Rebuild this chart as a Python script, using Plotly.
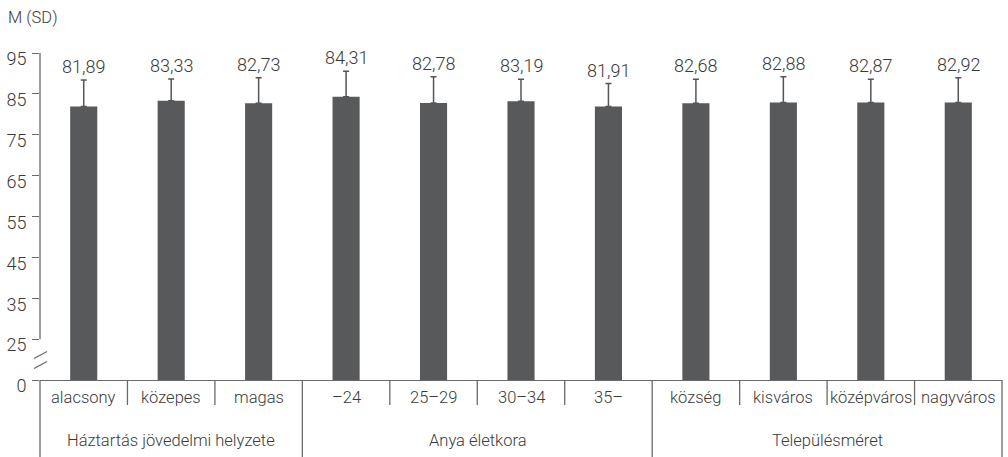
import plotly.graph_objects as go

# ---- data ----
categories = ["alacsony", "közepes", "magas", "–24", "25–29", "30–34", "35–",
              "község", "kisváros", "középváros", "nagyváros"]
groups = ["Háztartás jövedelmi helyzete", "Anya életkora", "Településméret"]
group_sizes = [3, 4, 4]
means = [81.89, 83.33, 82.73, 84.31, 82.78, 83.19, 81.91, 82.68, 82.88, 82.87, 82.92]
sds = [6.5, 5.3, 6.2, 6.2, 6.4, 5.4, 5.6, 5.9, 6.3, 5.7, 6.0]
tick_values = [0, 25, 35, 45, 55, 65, 75, 85, 95]
value_labels = [f"{m:.2f}".replace(".", ",") for m in means]

# ---- broken-axis transform: 0..25 compressed to one 10-unit step ----
BREAK_OFFSET = 15
def ypos(v):
    return 0 if v == 0 else v - BREAK_OFFSET

# ---- geometry ----
W, H = 1008, 457
L, R, T, B = 40, 6, 53, 77
PW, PH = W - L - R, H - T - B
n = len(categories)

def px_x(px):
    return (px - L) / PW

def px_y(py):
    return (H - B - py) / PH

FONT = "Roboto"
TXT = "#3a3a3a"
LINE = "#6a6a6a"
BAR = "#58595b"

x_idx = list(range(n))
bar_y = [ypos(m) for m in means]

fig = go.Figure()
fig.add_trace(go.Bar(
    x=x_idx, y=bar_y, base=0, width=0.31,
    marker=dict(color=BAR, line=dict(width=0)),
    error_y=dict(type="data", array=sds, arrayminus=[0] * n, symmetric=False,
                 color="#555555", thickness=1.5, width=3),
    hoverinfo="skip",
))

annotations = []
# value labels
for i, (m, s, lab) in enumerate(zip(means, sds, value_labels)):
    annotations.append(dict(x=i, y=ypos(m) + s, xref="x", yref="y", text=lab,
                            showarrow=False, yanchor="bottom", yshift=1,
                            font=dict(family=FONT, size=18, color=TXT, weight=300)))
# category labels
for i, c in enumerate(categories):
    annotations.append(dict(x=i, y=px_y(397), xref="x", yref="paper", text=c,
                            showarrow=False, yanchor="middle",
                            font=dict(family=FONT, size=16.5, color=TXT, weight=300)))
# group labels
start = 0
bounds = [-0.5]
for g, sz in zip(groups, group_sizes):
    center = start + (sz - 1) / 2
    annotations.append(dict(x=center, y=px_y(440), xref="x", yref="paper", text=g,
                            showarrow=False, yanchor="middle",
                            font=dict(family=FONT, size=16.5, color=TXT, weight=300)))
    start += sz
    bounds.append(start - 0.5)
# axis title
annotations.append(dict(x=px_x(6), y=px_y(18), xref="paper", yref="paper", text="M (SD)",
                        showarrow=False, xanchor="left", yanchor="middle",
                        font=dict(family=FONT, size=16.5, color=TXT, weight=300)))

shapes = []
def idx_to_paper(xi):
    return (xi + 0.5) / n

# group boundaries (full depth)
for b in bounds:
    shapes.append(dict(type="line", xref="paper", yref="paper",
                       x0=idx_to_paper(b), x1=idx_to_paper(b), y0=0, y1=px_y(H),
                       line=dict(color=LINE, width=1.3)))
# category separators (short)
for i in range(n - 1):
    b = i + 0.5
    if b in bounds:
        continue
    shapes.append(dict(type="line", xref="paper", yref="paper",
                       x0=idx_to_paper(b), x1=idx_to_paper(b), y0=0, y1=px_y(405),
                       line=dict(color=LINE, width=1.3)))
# y-axis line (from 25 up to 95, broken below)
shapes.append(dict(type="line", xref="paper", yref="y", x0=0, x1=0,
                   y0=ypos(25), y1=ypos(95), line=dict(color=LINE, width=1.3)))
# break marks
for cy in (355, 365):
    shapes.append(dict(type="line", xref="paper", yref="paper",
                       x0=px_x(34), x1=px_x(47), y0=px_y(cy + 3.5), y1=px_y(cy - 3.5),
                       line=dict(color=LINE, width=1.3)))

fig.update_layout(
    width=W, height=H,
    margin=dict(l=L, r=R, t=T, b=B, autoexpand=False),
    paper_bgcolor="white", plot_bgcolor="white",
    showlegend=False,
    annotations=annotations, shapes=shapes,
    xaxis=dict(range=[-0.5, n - 0.5], showticklabels=False, showgrid=False,
               zeroline=False, ticks="", showline=True, linecolor=LINE, linewidth=1.3,
               fixedrange=True, automargin=False),
    yaxis=dict(range=[0, ypos(95)], tickvals=[ypos(v) for v in tick_values],
               ticktext=[str(v) for v in tick_values], showgrid=False, zeroline=False,
               showline=False, ticks="outside", ticklen=7, tickcolor=LINE, tickwidth=1.3,
               ticklabelshift=6, ticklabelstandoff=2, automargin=False,
               tickfont=dict(family=FONT, size=18, color=TXT, weight=300),
               fixedrange=True),
)

fig.write_html("out.html", config={"displayModeBar": False},
               post_script="document.body.style.margin='0';document.body.style.padding='0';")
